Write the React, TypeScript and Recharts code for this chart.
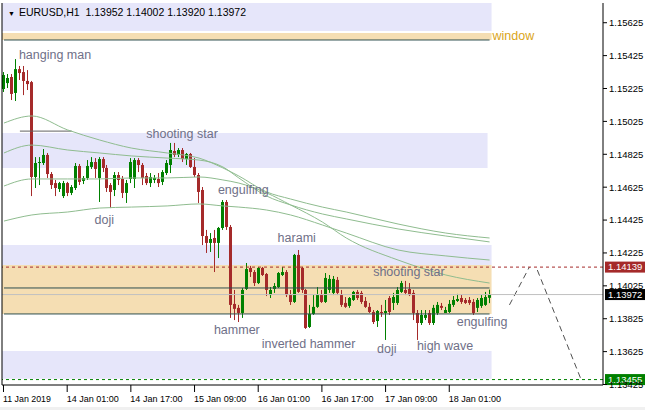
import React from 'react';
import {
  ComposedChart,
  Bar,
  Line,
  XAxis,
  YAxis,
  ReferenceArea,
  ReferenceLine,
  ReferenceDot,
} from 'recharts';

// EURUSD H1 candles
const opens = [
  1.15222, 1.15258, 1.15295, 1.15198, 1.15343, 1.15325, 1.15271, 1.15264, 1.14687, 1.14772,
  1.14772, 1.14821, 1.14705, 1.1465, 1.14614, 1.14571, 1.1465, 1.1459, 1.1462, 1.14754,
  1.14663, 1.14681, 1.14748, 1.14778, 1.14681, 1.14796, 1.14742, 1.14638, 1.14608, 1.14699,
  1.14675, 1.1459, 1.14675, 1.14675, 1.1479, 1.1476, 1.14693, 1.1465, 1.14669, 1.14675,
  1.14657, 1.14711, 1.1476, 1.14845, 1.14821, 1.14851, 1.14796, 1.14827, 1.14748, 1.14699,
  1.14608, 1.14328, 1.14286, 1.14316, 1.14286, 1.14377, 1.14535, 1.14383, 1.13915, 1.13891,
  1.1386, 1.14006, 1.14134, 1.14109, 1.14042, 1.14134, 1.14097, 1.13969, 1.14006, 1.14018,
  1.14091, 1.14109, 1.13969, 1.13927, 1.14213, 1.14134, 1.14, 1.13775, 1.13854, 1.13897,
  1.13969, 1.13927, 1.14, 1.13982, 1.14061, 1.13969, 1.13921, 1.13903, 1.13939, 1.13988,
  1.13982, 1.13933, 1.13897, 1.13866, 1.13811, 1.13866, 1.1386, 1.13951, 1.13921, 1.13921,
  1.13988, 1.14, 1.14006, 1.13982, 1.1386, 1.13799, 1.1383, 1.1386, 1.13799, 1.1386,
  1.13903, 1.1386, 1.13866, 1.13909, 1.13933, 1.13951, 1.13939, 1.13939, 1.13927, 1.13891,
  1.13903, 1.13909, 1.13952,
];
const highs = [
  1.15325, 1.15313, 1.15313, 1.15404, 1.15362, 1.15362, 1.15337, 1.15271, 1.14808, 1.14808,
  1.14857, 1.14833, 1.14717, 1.14669, 1.14657, 1.14663, 1.14657, 1.14638, 1.14772, 1.14766,
  1.14693, 1.1479, 1.14808, 1.14802, 1.14808, 1.14808, 1.1476, 1.1465, 1.14717, 1.14717,
  1.14693, 1.14669, 1.14802, 1.14802, 1.14802, 1.14772, 1.14711, 1.14711, 1.14699, 1.14711,
  1.14729, 1.1479, 1.14894, 1.14894, 1.14863, 1.14863, 1.14833, 1.14833, 1.14802, 1.14711,
  1.14626, 1.14365, 1.14346, 1.14365, 1.14383, 1.14547, 1.14547, 1.14395, 1.14, 1.13909,
  1.14012, 1.14164, 1.14146, 1.14121, 1.1414, 1.1414, 1.14103, 1.14018, 1.14042, 1.14109,
  1.1414, 1.14121, 1.14, 1.14219, 1.14243, 1.1414, 1.14006, 1.13909, 1.13969, 1.14018,
  1.14, 1.14103, 1.14091, 1.14085, 1.14079, 1.14, 1.13957, 1.13957, 1.13994, 1.14,
  1.13994, 1.13957, 1.13921, 1.13878, 1.13878, 1.13909, 1.13939, 1.13963, 1.13982, 1.14018,
  1.14055, 1.14055, 1.14042, 1.14, 1.13878, 1.13878, 1.13878, 1.13878, 1.13909, 1.13927,
  1.13921, 1.13897, 1.13939, 1.13963, 1.13976, 1.13969, 1.13951, 1.13957, 1.13945, 1.13951,
  1.13969, 1.13988, 1.14002,
];
const lows = [
  1.15204, 1.15228, 1.15155, 1.15149, 1.15277, 1.15185, 1.15216, 1.14571, 1.1462, 1.14638,
  1.1476, 1.14681, 1.14614, 1.14571, 1.14596, 1.14559, 1.14571, 1.14577, 1.14608, 1.14638,
  1.14644, 1.14669, 1.14736, 1.14681, 1.14535, 1.14717, 1.14596, 1.14498, 1.14571, 1.14638,
  1.14559, 1.14529, 1.1465, 1.1462, 1.14717, 1.14638, 1.14638, 1.14626, 1.1465, 1.14626,
  1.14638, 1.14699, 1.14711, 1.14808, 1.14808, 1.14778, 1.1476, 1.14742, 1.14687, 1.14529,
  1.14273, 1.14225, 1.14231, 1.14109, 1.14194, 1.14365, 1.14365, 1.1383, 1.13817, 1.13805,
  1.1383, 1.14, 1.14079, 1.14024, 1.14036, 1.14085, 1.13963, 1.13951, 1.13982, 1.14012,
  1.14085, 1.13957, 1.13909, 1.13921, 1.13982, 1.13982, 1.13763, 1.13769, 1.13848, 1.13891,
  1.13921, 1.13921, 1.13982, 1.13969, 1.13969, 1.13897, 1.13891, 1.13891, 1.13933, 1.13939,
  1.13915, 1.13891, 1.1386, 1.13793, 1.13775, 1.13836, 1.13696, 1.13848, 1.13878, 1.13909,
  1.13982, 1.13969, 1.13963, 1.13817, 1.13696, 1.13787, 1.13817, 1.13787, 1.13787, 1.13848,
  1.13878, 1.1386, 1.1386, 1.13897, 1.13927, 1.13915, 1.13915, 1.13909, 1.13848, 1.13866,
  1.13891, 1.13903, 1.1392,
];
const closes = [
  1.15307, 1.15289, 1.15192, 1.15343, 1.15319, 1.15271, 1.15252, 1.14687, 1.14772, 1.14778,
  1.14821, 1.14705, 1.14638, 1.1462, 1.1465, 1.1465, 1.1459, 1.14626, 1.14754, 1.14657,
  1.14681, 1.14754, 1.14778, 1.14736, 1.14796, 1.14742, 1.1462, 1.14596, 1.14699, 1.14669,
  1.1459, 1.1465, 1.14778, 1.1479, 1.1476, 1.14681, 1.1465, 1.14687, 1.14681, 1.1465,
  1.14717, 1.14772, 1.14851, 1.14821, 1.14851, 1.14796, 1.14827, 1.14748, 1.14699, 1.14596,
  1.14328, 1.14286, 1.1431, 1.14286, 1.14377, 1.14535, 1.14383, 1.13909, 1.13885, 1.1386,
  1.14, 1.14127, 1.14109, 1.14042, 1.14134, 1.14091, 1.14, 1.14, 1.14024, 1.14103,
  1.14109, 1.13969, 1.13927, 1.14213, 1.13988, 1.14, 1.13769, 1.13854, 1.13897, 1.13969,
  1.13927, 1.14073, 1.14067, 1.14067, 1.13982, 1.13909, 1.13897, 1.13951, 1.13988, 1.13951,
  1.13927, 1.13897, 1.13866, 1.13805, 1.13872, 1.1386, 1.13872, 1.13866, 1.13957, 1.14,
  1.14042, 1.13982, 1.13969, 1.1386, 1.13799, 1.13848, 1.13848, 1.13799, 1.13891, 1.13909,
  1.13891, 1.13878, 1.13915, 1.13939, 1.13945, 1.13927, 1.13921, 1.13921, 1.1386, 1.13939,
  1.13951, 1.13957, 1.13972,
];

// moving averages, sampled at a few bars and joined by the line
const maIndex = [0, 7, 16, 24, 32, 41, 49, 55, 59, 66, 72, 80, 86, 99, 111, 122];
const maA = [1.15015, 1.15058, 1.14973, 1.14912, 1.14863, 1.14833, 1.14802, 1.14742, 1.14693, 1.14596, 1.14553, 1.14504, 1.14474, 1.14401, 1.14346, 1.14316];
const maB = [1.14833, 1.14881, 1.14851, 1.14833, 1.14815, 1.14802, 1.1479, 1.14748, 1.14681, 1.14571, 1.14517, 1.14462, 1.14432, 1.14371, 1.14328, 1.14292];
const maC = [1.14632, 1.14675, 1.14675, 1.14675, 1.14681, 1.14681, 1.14687, 1.14669, 1.1465, 1.1459, 1.14517, 1.14413, 1.14316, 1.14182, 1.14091, 1.14042];
const maD = [1.14419, 1.14456, 1.14474, 1.14498, 1.14504, 1.14511, 1.14523, 1.14511, 1.14504, 1.14486, 1.14456, 1.14395, 1.14346, 1.14243, 1.14207, 1.14182];

const timeTickIndex = [0, 16, 32, 48, 64, 80, 96, 112];
const timeTickLabels = [
  '11 Jan 2019', '14 Jan 01:00', '14 Jan 17:00', '15 Jan 09:00',
  '16 Jan 01:00', '16 Jan 17:00', '17 Jan 09:00', '18 Jan 01:00',
];
const priceTicks = [
  1.13425, 1.13625, 1.13825, 1.14025, 1.14225, 1.14425,
  1.14625, 1.14825, 1.15025, 1.15225, 1.15425, 1.15625,
];
const slotCount = 151;
const lastBar = 122;

const zones = [
  { x2: 122, y1: 1.15575, y2: 1.15745, fill: '#e6e6fa' },
  { x2: 122, y1: 1.1552, y2: 1.15562, fill: '#f5deb3' },
  { x2: 121, y1: 1.14742, y2: 1.14954, fill: '#e6e6fa' },
  { x2: 122, y1: 1.14152, y2: 1.14273, fill: '#e6e6fa' },
  { x2: 122, y1: 1.13854, y2: 1.14152, fill: '#f5deb3' },
  { x2: 122, y1: 1.1346, y2: 1.13629, fill: '#e6e6fa' },
];
const darkLevels = [1.1552, 1.14012, 1.13854];
const shortLevel = { from: 4, to: 17, price: 1.14966 };

const priceMarkers = [
  { price: 1.14139, line: '#a52a2a', box: '#a52a2a', dash: '3 3' },
  { price: 1.13972, line: '#c0c0c0', box: '#000000', dash: undefined },
  { price: 1.13455, line: '#008000', box: '#008000', dash: '3 3' },
];

const projection = [
  [{ idx: 127, price: 1.13909 }, { idx: 132, price: 1.14139 }],
  [{ idx: 134, price: 1.14121 }, { idx: 145, price: 1.13455 }],
];

const annotations = [
  { text: 'hanging man', idx: 4, price: 1.15429 },
  { text: 'shooting star', idx: 36, price: 1.14948 },
  { text: 'engulfing', idx: 54, price: 1.14608 },
  { text: 'doji', idx: 23, price: 1.14425 },
  { text: 'harami', idx: 69, price: 1.14316 },
  { text: 'shooting star', idx: 93, price: 1.14109 },
  { text: 'hammer', idx: 53, price: 1.13757 },
  { text: 'inverted hammer', idx: 65, price: 1.13672 },
  { text: 'doji', idx: 94, price: 1.13641 },
  { text: 'high wave', idx: 104, price: 1.13659 },
  { text: 'engulfing', idx: 114, price: 1.13805 },
  { text: 'window', idx: 123, price: 1.15544, color: '#daa520' },
];

const rows = Array.from({ length: slotCount }, (_, i) => {
  const row: any = { i };
  if (i <= lastBar) {
    row.o = opens[i];
    row.h = highs[i];
    row.l = lows[i];
    row.c = closes[i];
    row.hl = [lows[i], highs[i]];
  }
  const k = maIndex.indexOf(i);
  if (k >= 0) {
    row.maA = maA[k];
    row.maB = maB[k];
    row.maC = maC[k];
    row.maD = maD[k];
  }
  return row;
});

const FONT = 'Liberation Sans, Arial, sans-serif';

const Candle = (props: any) => {
  const { x, y, width, height, payload } = props;
  if (!payload || payload.o == null) return null;
  const { o, h, l, c } = payload;
  const color = c >= o ? '#008000' : '#a52a2a';
  const top = Math.min(y, y + height);
  const hh = Math.abs(height);
  const k = h - l > 0 ? hh / (h - l) : 0;
  const bodyTop = top + (h - Math.max(o, c)) * k;
  const bodyH = Math.max(1, Math.abs(o - c) * k);
  const cx = Math.floor(x + width / 2);
  return (
    <g>
      <rect x={cx} y={top} width={1} height={Math.max(1, hh)} fill={color} />
      <rect x={cx - 1} y={bodyTop} width={3} height={bodyH} fill={color} />
    </g>
  );
};

const TimeTick = (props: any) => {
  const { x, y, payload } = props;
  const k = timeTickIndex.indexOf(payload.value);
  if (k < 0) return null;
  const label = timeTickLabels[k];
  return (
    <g>
      <line x1={x - 0.5} x2={x - 0.5} y1={y} y2={y + 7} stroke="#000" />
      <text
        x={x - 1}
        y={y + 17}
        fontSize={9.5}
        fontFamily={FONT}
        fill="#000"
        textLength={label.length * 4.35}
        lengthAdjust="spacingAndGlyphs"
      >
        {label}
      </text>
    </g>
  );
};

const priceBox = (m: { price: number; box: string }) => (props: any) => {
  const vb = props.viewBox || {};
  const left = vb.x + vb.width + 2;
  return (
    <g>
      <rect x={left} y={vb.y - 5.5} width={40} height={11} fill={m.box} />
      <text
        x={left + 3}
        y={vb.y}
        dy="0.35em"
        fontSize={9.5}
        fontFamily={FONT}
        fill="#fff"
      >
        {m.price.toFixed(5)}
      </text>
    </g>
  );
};

const annotationLabel = (a: { text: string; color?: string }) => (props: any) => {
  const vb = props.viewBox || {};
  const cx = vb.x + (vb.width || 0) / 2;
  const cy = vb.y + (vb.height || 0) / 2;
  return (
    <text
      x={cx - 1}
      y={cy}
      dy="0.35em"
      fontSize={12.5}
      fontFamily={FONT}
      fill={a.color || '#6f7088'}
    >
      {a.text}
    </text>
  );
};

export default function App() {
  const last = lastBar;
  const title = `EURUSD,H1  ${opens[last].toFixed(5)} ${highs[last].toFixed(5)} ${lows[last].toFixed(5)} ${closes[last].toFixed(5)}`;
  return (
    <div style={{ position: 'absolute', left: 0, top: 0, width: 645, height: 410, background: '#fff' }}>
      <ComposedChart
        width={645}
        height={410}
        data={rows}
        margin={{ top: 3, right: 0, bottom: 0, left: 0 }}
      >
        <XAxis
          dataKey="i"
          type="category"
          ticks={timeTickIndex}
          interval={0}
          height={25}
          tickSize={0}
          tickMargin={0}
          tickLine={false}
          axisLine={{ stroke: '#000' }}
          tick={<TimeTick />}
        />
        <YAxis
          yAxisId="left"
          orientation="left"
          width={2}
          domain={[1.13422, 1.15745]}
          allowDataOverflow
          tick={false}
          tickLine={false}
          axisLine={{ stroke: '#000' }}
        />
        <YAxis
          orientation="right"
          width={42}
          domain={[1.13422, 1.15745]}
          allowDataOverflow
          ticks={priceTicks}
          interval={0}
          tickSize={4}
          tickMargin={2}
          tickFormatter={(v: number) => v.toFixed(5)}
          tick={{ fontSize: 9.5, fontFamily: FONT, fill: '#000' }}
          tickLine={{ stroke: '#000' }}
          axisLine={{ stroke: '#000' }}
        />
        {zones.map((z, k) => (
          <ReferenceArea
            key={'z' + k}
            x1={0}
            x2={z.x2}
            y1={z.y1}
            y2={z.y2}
            fill={z.fill}
            fillOpacity={1}
            stroke="none"
            ifOverflow="hidden"
          />
        ))}
        {darkLevels.map((p, k) => (
          <ReferenceLine
            key={'d' + k}
            segment={[{ x: 0, y: p }, { x: lastBar, y: p }]}
            stroke="#2f4f4f"
            strokeWidth={1}
          />
        ))}
        <ReferenceLine
          segment={[
            { x: shortLevel.from, y: shortLevel.price },
            { x: shortLevel.to, y: shortLevel.price },
          ]}
          stroke="#606060"
        />
        {projection.map((seg, k) => (
          <ReferenceLine
            key={'p' + k}
            segment={seg.map((s) => ({ x: s.idx, y: s.price }))}
            stroke="#505050"
            strokeDasharray="6 4"
            ifOverflow="visible"
          />
        ))}
        <Line dataKey="maA" type="monotone" stroke="#8fbc8f" strokeWidth={1} dot={false} activeDot={false} connectNulls isAnimationActive={false} />
        <Line dataKey="maB" type="monotone" stroke="#8fbc8f" strokeWidth={1} dot={false} activeDot={false} connectNulls isAnimationActive={false} />
        <Line dataKey="maC" type="monotone" stroke="#8fbc8f" strokeWidth={1} dot={false} activeDot={false} connectNulls isAnimationActive={false} />
        <Line dataKey="maD" type="monotone" stroke="#8fbc8f" strokeWidth={1} dot={false} activeDot={false} connectNulls isAnimationActive={false} />
        <Bar dataKey="hl" barSize={3} shape={<Candle />} isAnimationActive={false} />
        {priceMarkers.map((m, k) => (
          <ReferenceLine
            key={'m' + k}
            y={m.price}
            stroke={m.line}
            strokeDasharray={m.dash}
            label={priceBox(m)}
          />
        ))}
        {annotations.map((a, k) => (
          <ReferenceDot
            key={'a' + k}
            x={a.idx}
            y={a.price}
            r={1}
            fill="none"
            stroke="none"
            label={annotationLabel(a)}
          />
        ))}
      </ComposedChart>
      <div
        style={{
          position: 'absolute',
          left: 8,
          top: 6,
          fontFamily: FONT,
          fontSize: 10.5,
          color: '#000',
          whiteSpace: 'pre',
          lineHeight: '12px',
        }}
      >
        <span style={{ fontSize: 7, marginRight: 4 }}>▼</span>
        {title}
      </div>
      <div style={{ position: 'absolute', left: 0, top: 407, width: 645, height: 3, background: '#f0f0f0' }} />
    </div>
  );
}
